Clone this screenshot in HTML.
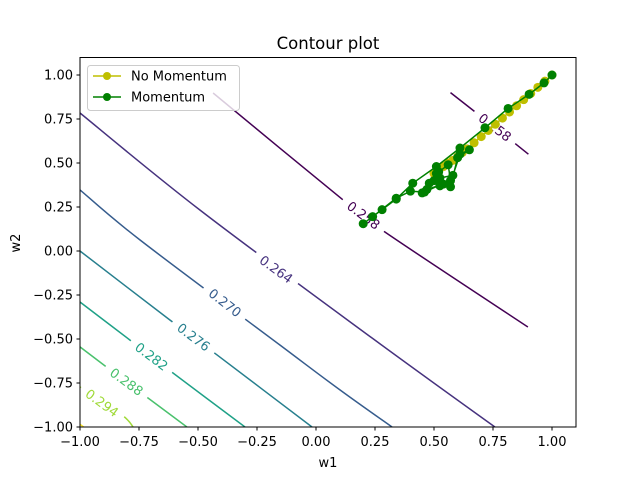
<!DOCTYPE html>
<html><head><meta charset="utf-8"><style>
body{margin:0;background:#fff}
svg{display:block;font-family:"DejaVu Sans","Liberation Sans",sans-serif}
</style></head><body>
<svg id="chart" width="640" height="480" viewBox="0 0 640 480">
<rect width="640" height="480" fill="#fff"/>
<g id="contours"></g>
<g id="labels"></g>
<g id="series"></g>
<rect x="80" y="57.5" width="496" height="369.5" fill="none" stroke="#000" stroke-width="1"/>
<g id="axes"></g>
<text x="328" y="49" text-anchor="middle" font-size="16.5">Contour plot</text>
<text x="328" y="467" text-anchor="middle" font-size="13">w1</text>
<text x="20" y="243" text-anchor="middle" font-size="13" transform="rotate(-90 20 243)">w2</text>
<g>
<rect x="87.5" y="65.5" width="152" height="45" rx="3" fill="#fff" fill-opacity="0.8" stroke="#ccc"/>
<line x1="93" y1="76" x2="121" y2="76" stroke="#bfbf00" stroke-width="1.5"/>
<circle cx="107" cy="76" r="4" fill="#bfbf00"/>
<text x="131" y="80.5" font-size="13">No Momentum</text>
<line x1="93" y1="97" x2="121" y2="97" stroke="#008000" stroke-width="1.5"/>
<circle cx="107" cy="97" r="4" fill="#008000"/>
<text x="131" y="101.5" font-size="13">Momentum</text>
</g>
</svg>
<script>
const levels=["0.258","0.258","0.264","0.270","0.276","0.282","0.288","0.294","0.300"];
const levelColors=["#440154","#440154","#46327e","#365c8d","#277f8e","#1fa187","#4ac16d","#a0da39","#fde725"];
// contour polylines in data coords [w1,w2]
const contourLines=[
 [[-0.436,0.898],[0.11,0.295],[0.292,0.108],[0.898,-0.432]],
 [[0.57,0.9],[0.758,0.702],[0.9,0.55]],
 [[-1,0.784],[-0.492,0.233],[0.237,-0.494],[0.758,-1]],
 [[-1,0.347],[-0.746,0.063],[-0.153,-0.534],[0.102,-0.79],[0.322,-1]],
 [[-1,0],[-0.619,-0.392],[-0.42,-0.59],[-0.017,-1]],
 [[-1,-0.29],[-0.788,-0.506],[-0.606,-0.693],[-0.301,-1]],
 [[-1,-0.545],[-0.894,-0.653],[-0.712,-0.835],[-0.547,-1]],
 [[-1,-0.773],[-0.822,-0.932],[-0.775,-1]],
 [[-1,-0.985],[-0.985,-1]]
];
// labels [w1,w2,angle]
const labelPos=[[0.201,0.202,37],[0.758,0.702,37],[-0.169,-0.105,36],[-0.386,-0.295,38],[-0.519,-0.49,37],[-0.697,-0.6,37],[-0.803,-0.744,36],[-0.907,-0.864,36],null];
const noMomW1=[1.0,0.97,0.94,0.91,0.88,0.85,0.82,0.79,0.76,0.73,0.70,0.67,0.64,0.62,0.60,0.58,0.56,0.54,0.52,0.51,0.50];
const noMomW2=[1.0,0.965,0.93,0.895,0.86,0.825,0.79,0.755,0.72,0.685,0.65,0.615,0.58,0.56,0.535,0.515,0.5,0.48,0.46,0.45,0.44];
const momW1=[1.0,0.966,0.903,0.814,0.716,0.61,0.51,0.41,0.34,0.28,0.2,0.24,0.34,0.4,0.46,0.525,0.57,0.6,0.65,0.61,0.58,0.525,0.48,0.51,0.56,0.57,0.525,0.5,0.52,0.54,0.47,0.45];
const momW2=[1.0,0.955,0.89,0.81,0.7,0.585,0.48,0.385,0.295,0.235,0.155,0.195,0.3,0.34,0.335,0.375,0.365,0.53,0.575,0.55,0.43,0.415,0.385,0.44,0.49,0.4,0.37,0.4,0.45,0.38,0.35,0.33];
const ticks=[-1,-0.75,-0.5,-0.25,0,0.25,0.5,0.75,1];
const tickLabels=["−1.00","−0.75","−0.50","−0.25","0.00","0.25","0.50","0.75","1.00"];

const NS="http://www.w3.org/2000/svg";
const X=v=>80+(v+1)*236;
const Y=v=>75+(1-v)*176;
function mk(tag,attrs,parent){const e=document.createElementNS(NS,tag);for(const k in attrs)e.setAttribute(k,attrs[k]);parent.appendChild(e);return e;}
function smooth(pts){
 let d='M'+pts[0][0].toFixed(1)+' '+pts[0][1].toFixed(1);
 for(let i=0;i<pts.length-1;i++){
  const p0=pts[Math.max(0,i-1)],p1=pts[i],p2=pts[i+1],p3=pts[Math.min(pts.length-1,i+2)];
  const c1=[p1[0]+(p2[0]-p0[0])/6,p1[1]+(p2[1]-p0[1])/6],c2=[p2[0]-(p3[0]-p1[0])/6,p2[1]-(p3[1]-p1[1])/6];
  d+=` C${c1[0].toFixed(1)} ${c1[1].toFixed(1)} ${c2[0].toFixed(1)} ${c2[1].toFixed(1)} ${p2[0].toFixed(1)} ${p2[1].toFixed(1)}`;
 }
 return d;
}
const svg=document.getElementById('chart');
const gC=document.getElementById('contours'),gL=document.getElementById('labels'),gS=document.getElementById('series'),gA=document.getElementById('axes');
const clip=mk('clipPath',{id:'pc'},svg);
mk('rect',{x:80,y:57.5,width:496,height:369.5},clip);
const mask=mk('mask',{id:'lm'},svg);
mk('rect',{x:0,y:0,width:640,height:480,fill:'#fff'},mask);
labelPos.forEach(p=>{if(!p)return;const cx=X(p[0]),cy=Y(p[1]);
 mk('rect',{x:cx-26,y:cy-9,width:52,height:18,fill:'#000',transform:`rotate(${p[2]} ${cx} ${cy})`},mask);});
const gInner=mk('g',{mask:'url(#lm)'},gC);
gC.setAttribute('clip-path','url(#pc)');
contourLines.forEach((ln,i)=>{
 const el=mk('path',{d:smooth(ln.map(p=>[X(p[0]),Y(p[1])])),fill:'none',stroke:levelColors[i],'stroke-width':1.5},gInner);
 
 
 const p=labelPos[i];
 if(p){const cx=X(p[0]),cy=Y(p[1]);
  const t=mk('text',{x:cx,y:cy+4.5,'text-anchor':'middle','font-size':13,fill:levelColors[i],transform:`rotate(${p[2]} ${cx} ${cy})`},gL);
  t.textContent=levels[i];
  
  }
});
function series(xs,ys,color,name){
 const pts=xs.map((v,i)=>X(v).toFixed(1)+','+Y(ys[i]).toFixed(1)).join(' ');
 const pl=mk('polyline',{points:pts,fill:'none',stroke:color,'stroke-width':1.5},gS);
 
 
 xs.forEach((v,i)=>{const c=mk('circle',{cx:X(v),cy:Y(ys[i]),r:4.5,fill:color},gS);
  
  });
}
series(noMomW1,noMomW2,'#bfbf00','no-momentum');
series(momW1,momW2,'#008000','momentum');
ticks.forEach((v,i)=>{
 mk('line',{x1:X(v),y1:427,x2:X(v),y2:430.5,stroke:'#000'},gA);
 const t=mk('text',{x:X(v),y:446,'text-anchor':'middle','font-size':13},gA);
 t.textContent=tickLabels[i];
 
 
 mk('line',{x1:76.5,y1:Y(v),x2:80,y2:Y(v),stroke:'#000'},gA);
 const u=mk('text',{x:73,y:Y(v)+4.5,'text-anchor':'end','font-size':13},gA);
 u.textContent=tickLabels[i];
 
 
});
</script>
</body></html>
